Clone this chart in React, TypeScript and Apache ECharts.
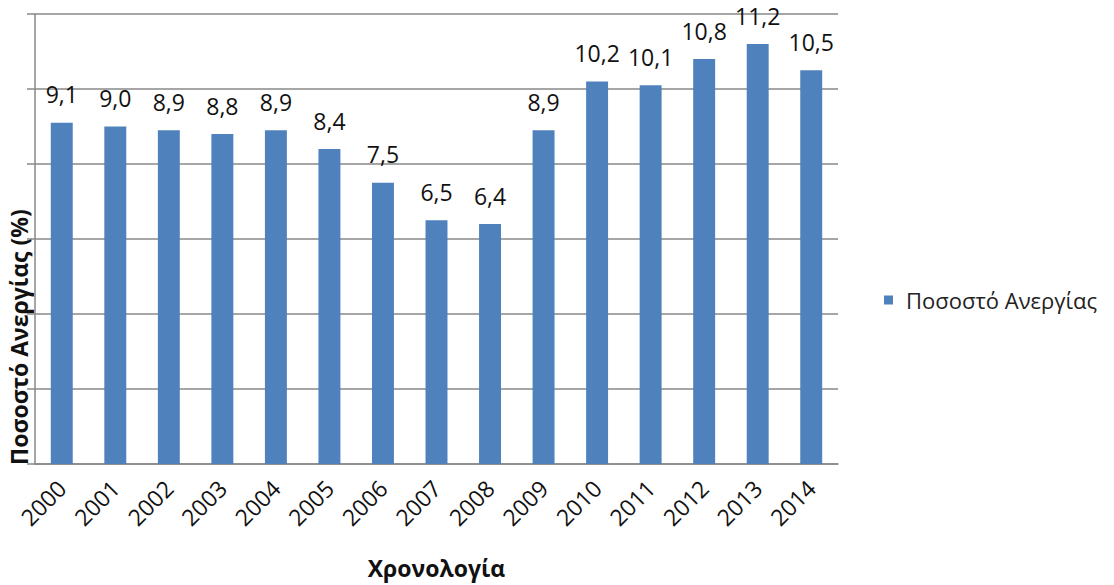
import React, { useEffect, useRef } from "react";
import * as echarts from "echarts";

const years = ["2000", "2001", "2002", "2003", "2004", "2005", "2006", "2007", "2008", "2009", "2010", "2011", "2012", "2013", "2014"];
const rates = [9.1, 9.0, 8.9, 8.8, 8.9, 8.4, 7.5, 6.5, 6.4, 8.9, 10.2, 10.1, 10.8, 11.2, 10.5];
const seriesName = "Ποσοστό Ανεργίας";
const xTitle = "Χρονολογία";
const yTitle = "Ποσοστό Ανεργίας (%)";

const FONT = "'Open Sans', 'DejaVu Sans', sans-serif";

export default function App() {
  const ref = useRef<HTMLDivElement>(null);
  useEffect(() => {
    if (!ref.current) return;
    const chart = echarts.init(ref.current, null, { renderer: "svg" });
    chart.setOption({
      animation: false,
      backgroundColor: "#ffffff",
      grid: { left: 35, right: 276, top: 14, bottom: 121, containLabel: false },
      legend: {
        data: [seriesName],
        orient: "vertical",
        left: 879,
        top: 284,
        itemWidth: 9,
        itemHeight: 9,
        icon: "rect",
        textStyle: { fontFamily: FONT, fontSize: 22, color: "#222", padding: [0, 0, 0, 8] },
      },
      graphic: [
        {
          type: "text",
          x: 19,
          y: 465,
          rotation: Math.PI / 2,
          style: {
            text: yTitle,
            fontFamily: FONT,
            fontSize: 23,
            fontWeight: "bold",
            fill: "#111",
            textAlign: "left",
            textVerticalAlign: "middle",
          },
        },
      ],
      xAxis: {
        type: "category",
        data: years,
        name: xTitle,
        nameLocation: "middle",
        nameGap: 92,
        nameTextStyle: { fontFamily: FONT, fontSize: 23, fontWeight: "bold", color: "#111" },
        axisLine: { show: true, lineStyle: { color: "#888888", width: 1.5 } },
        axisTick: { show: false },
        axisLabel: {
          rotate: 45,
          margin: 20,
          fontFamily: FONT,
          fontSize: 23,
          color: "#111",
          interval: 0,
        },
      },
      yAxis: {
        type: "value",
        min: 0,
        max: 12,
        interval: 2,
        axisLine: { show: true, lineStyle: { color: "#888888", width: 1.5 } },
        axisTick: { show: true, length: 8, lineStyle: { color: "#888888", width: 1.5 } },
        axisLabel: { show: false },
        splitLine: { show: true, lineStyle: { color: "#888888", width: 1.5 } },
      },
      series: [
        {
          name: seriesName,
          type: "bar",
          data: rates,
          barWidth: "41%",
          itemStyle: { color: "#4F81BD" },
          label: {
            show: true,
            position: "top",
            distance: 17,
            fontFamily: FONT,
            fontSize: 23,
            color: "#111",
            formatter: (p: any) => p.value.toFixed(1).replace(".", ","),
          },
        },
      ],
    });
    return () => chart.dispose();
  }, []);
  return <div ref={ref} style={{ width: 1114, height: 585, position: "absolute", left: 0, top: 0 }} />;
}
